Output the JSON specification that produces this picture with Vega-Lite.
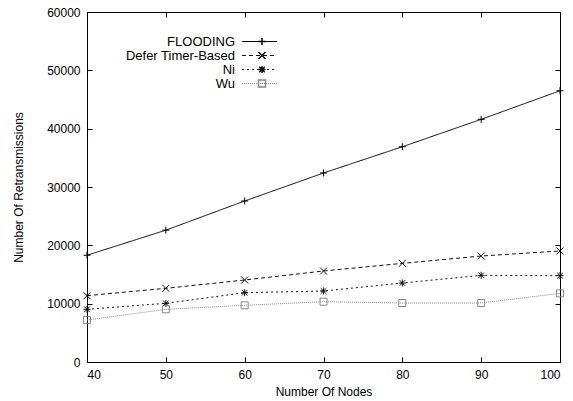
{
  "$schema": "https://vega.github.io/schema/vega-lite/v6.json",
  "autosize": {"type": "none"},
  "width": 473,
  "height": 350,
  "padding": {"left": 87, "top": 12, "right": 13, "bottom": 39},
  "background": "white",
  "config": {
    "view": {"stroke": "black", "strokeWidth": 1},
    "font": "Liberation Sans",
    "axis": {"domain": false, "grid": false, "tickColor": "black", "tickSize": -5, "labelFontSize": 12, "labelColor": "black", "titleFontSize": 12, "titleFontWeight": "normal", "titleColor": "black", "labelFont": "Liberation Sans", "titleFont": "Liberation Sans"},
    "legend": {"labelFont": "Liberation Sans", "labelFontSize": 13, "labelColor": "black"}
  },
  "data": {"values": [
    {"nodes": 40, "series": "FLOODING", "value": 18300},
    {"nodes": 50, "series": "FLOODING", "value": 22600},
    {"nodes": 60, "series": "FLOODING", "value": 27600},
    {"nodes": 70, "series": "FLOODING", "value": 32400},
    {"nodes": 80, "series": "FLOODING", "value": 36900},
    {"nodes": 90, "series": "FLOODING", "value": 41600},
    {"nodes": 100, "series": "FLOODING", "value": 46500},
    {"nodes": 40, "series": "Defer Timer-Based", "value": 11370},
    {"nodes": 50, "series": "Defer Timer-Based", "value": 12630},
    {"nodes": 60, "series": "Defer Timer-Based", "value": 14060},
    {"nodes": 70, "series": "Defer Timer-Based", "value": 15600},
    {"nodes": 80, "series": "Defer Timer-Based", "value": 16910},
    {"nodes": 90, "series": "Defer Timer-Based", "value": 18170},
    {"nodes": 100, "series": "Defer Timer-Based", "value": 19030},
    {"nodes": 40, "series": "Ni", "value": 9030},
    {"nodes": 50, "series": "Ni", "value": 10060},
    {"nodes": 60, "series": "Ni", "value": 11880},
    {"nodes": 70, "series": "Ni", "value": 12170},
    {"nodes": 80, "series": "Ni", "value": 13540},
    {"nodes": 90, "series": "Ni", "value": 14860},
    {"nodes": 100, "series": "Ni", "value": 14800},
    {"nodes": 40, "series": "Wu", "value": 7200},
    {"nodes": 50, "series": "Wu", "value": 9030},
    {"nodes": 60, "series": "Wu", "value": 9720},
    {"nodes": 70, "series": "Wu", "value": 10340},
    {"nodes": 80, "series": "Wu", "value": 10110},
    {"nodes": 90, "series": "Wu", "value": 10110},
    {"nodes": 100, "series": "Wu", "value": 11770}
  ]},
  "resolve": {"axis": {"x": "independent", "y": "independent"}, "legend": {"color": "independent", "strokeDash": "independent", "shape": "independent"}},
  "layer": [
    {
      "mark": {"type": "line", "strokeWidth": 1, "clip": false},
      "encoding": {
        "x": {"field": "nodes", "type": "quantitative", "scale": {"domain": [40, 100], "nice": false, "zero": false},
              "axis": {"title": "Number Of Nodes", "values": [40, 50, 60, 70, 80, 90, 100], "labelPadding": 12, "titlePadding": 6}},
        "y": {"field": "value", "type": "quantitative", "scale": {"domain": [0, 60000], "nice": false},
              "axis": {"title": "Number Of Retransmissions", "values": [0, 10000, 20000, 30000, 40000, 50000, 60000], "format": "d", "labelPadding": 12, "titlePadding": 21}},
        "color": {"field": "series", "type": "nominal",
                  "scale": {"domain": ["FLOODING", "Defer Timer-Based", "Ni", "Wu"], "range": ["#000000", "#111111", "#111111", "#888888"]},
                  "legend": {"title": null, "orient": "none", "legendX": 166, "legendY": 23, "symbolType": "M-5,0H5", "symbolSize": 49, "symbolStrokeWidth": 1, "labelAlign": "right", "labelOffset": -31, "rowPadding": 0, "padding": 0}},
        "strokeDash": {"field": "series", "type": "nominal",
                  "scale": {"domain": ["FLOODING", "Defer Timer-Based", "Ni", "Wu"], "range": [[1, 0], [4, 3], [2, 3], [1, 1]]},
                  "legend": {"title": null, "orient": "none", "legendX": 166, "legendY": 23, "symbolType": "M-5,0H5", "symbolSize": 49, "symbolStrokeWidth": 1, "labelAlign": "right", "labelOffset": -31, "rowPadding": 0, "padding": 0}}
      }
    },
    {
      "mark": {"type": "point", "filled": false, "strokeWidth": 1, "size": 49, "opacity": 1, "clip": false},
      "encoding": {
        "x": {"field": "nodes", "type": "quantitative", "scale": {"domain": [40, 100], "nice": false, "zero": false},
              "axis": {"orient": "top", "title": null, "labels": false, "values": [40, 50, 60, 70, 80, 90, 100]}},
        "y": {"field": "value", "type": "quantitative", "scale": {"domain": [0, 60000], "nice": false},
              "axis": {"orient": "right", "title": null, "labels": false, "values": [0, 10000, 20000, 30000, 40000, 50000, 60000]}},
        "color": {"field": "series", "type": "nominal",
                  "scale": {"domain": ["FLOODING", "Defer Timer-Based", "Ni", "Wu"], "range": ["#000000", "#111111", "#111111", "#555555"]},
                  "legend": {"title": null, "orient": "none", "legendX": 155, "legendY": 23, "symbolOffset": 13.5, "symbolSize": 49, "symbolFillColor": "transparent", "labelOpacity": 0, "rowPadding": 0, "padding": 0}},
        "shape": {"field": "series", "type": "nominal",
                  "scale": {"domain": ["FLOODING", "Defer Timer-Based", "Ni", "Wu"], "range": ["M-1,0H1M0,-1V1", "M-1,-1L1,1M-1,1L1,-1", "M-1,0H1M0,-1V1M-0.8,-0.8L0.8,0.8M-0.8,0.8L0.8,-0.8", "square"]},
                  "legend": {"title": null, "orient": "none", "legendX": 155, "legendY": 23, "symbolOffset": 13.5, "symbolSize": 49, "symbolFillColor": "transparent", "labelOpacity": 0, "rowPadding": 0, "padding": 0}}
      }
    }
  ]
}
